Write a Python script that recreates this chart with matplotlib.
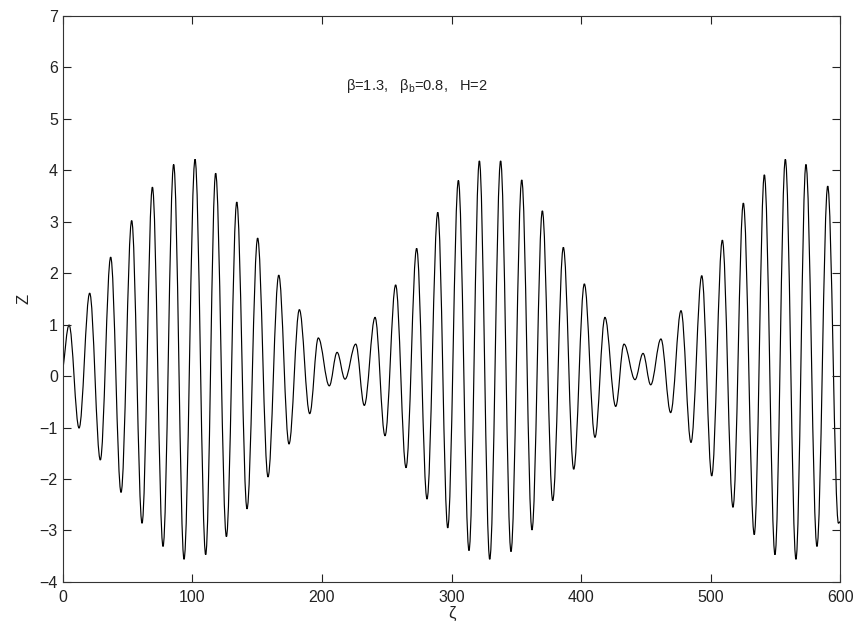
import numpy as np
import matplotlib.pyplot as plt
from matplotlib.path import Path
from matplotlib.patches import PathPatch

plt.rcParams['font.family'] = ['Liberation Sans', 'DejaVu Sans']
plt.rcParams['mathtext.fontset'] = 'custom'
plt.rcParams['mathtext.rm'] = 'Liberation Sans'

# surface elevation Z at its crests and troughs (first and last entries are the ends)
zeta = [0.0, 4.9, 12.6, 20.8, 29.0, 37.0, 45.0, 53.2, 61.2, 69.2, 77.4, 85.6, 93.6,
        102.1, 110.3, 118.0, 126.3, 134.3, 142.2, 150.4, 158.4, 166.7, 174.6, 182.6, 190.6,
        197.2, 205.7, 211.7, 217.8, 226.1, 232.7, 241.0, 248.7, 256.9, 264.9, 273.1, 281.1,
        289.4, 297.1, 305.3, 313.5, 321.5, 329.5, 337.9, 345.9, 354.2, 362.1, 370.1, 378.1,
        386.3, 394.3, 402.5, 410.7, 418.4, 426.7, 433.1, 441.6, 447.8, 453.7, 461.6, 469.1,
        477.1, 484.8, 493.1, 500.8, 509.0, 517.2, 525.2, 533.6, 541.4, 549.6, 557.6, 565.8,
        573.5, 582.0, 590.3, 598.6, 600.0]
z = [0.10, 0.99, -1.01, 1.61, -1.63, 2.31, -2.26, 3.02, -2.86, 3.67, -3.31, 4.11, -3.56,
     4.21, -3.47, 3.94, -3.12, 3.38, -2.58, 2.68, -1.96, 1.96, -1.32, 1.29, -0.73,
     0.74, -0.19, 0.46, -0.06, 0.62, -0.57, 1.14, -1.16, 1.77, -1.78, 2.48, -2.39,
     3.18, -2.95, 3.80, -3.39, 4.18, -3.56, 4.18, -3.41, 3.81, -2.99, 3.21, -2.42,
     2.50, -1.81, 1.79, -1.19, 1.14, -0.59, 0.62, -0.07, 0.44, -0.17, 0.72, -0.71,
     1.27, -1.29, 1.95, -1.94, 2.64, -2.55, 3.36, -3.08, 3.91, -3.47, 4.21, -3.56,
     4.11, -3.31, 3.69, -2.86, -2.82]

xticks = [0, 100, 200, 300, 400, 500, 600]
yticks = [-4, -3, -2, -1, 0, 1, 2, 3, 4, 5, 6, 7]


def smooth_path(xs, ys, k=0.364):
    # cubic segments with flat tangents at crests/troughs, straight tangents at the ends
    n = len(xs)
    verts = [(xs[0], ys[0])]
    codes = [Path.MOVETO]
    for i in range(n - 1):
        x0, y0, x1, y1 = xs[i], ys[i], xs[i + 1], ys[i + 1]
        dx, dy = x1 - x0, y1 - y0
        if i == 0:
            c1 = (x0 + k * dx, y0 + k * dy)
        else:
            c1 = (x0 + k * dx, y0)
        if i + 1 == n - 1:
            c2 = (x1 - k * dx, y1 - k * dy)
        else:
            c2 = (x1 - k * dx, y1)
        verts += [c1, c2, (x1, y1)]
        codes += [Path.CURVE4] * 3
    return Path(verts, codes)


fig = plt.figure(figsize=(8.57, 6.27), dpi=100)
ax = fig.add_axes([0.0732, 0.0718, 0.9073, 0.9032])

ax.add_patch(PathPatch(smooth_path(zeta, z), fill=False, edgecolor='black', lw=0.85))

ax.set_xlim(0, 600)
ax.set_ylim(-4, 7)
ax.set_xticks(xticks)
ax.set_yticks(yticks)
ax.tick_params(direction='in', top=True, right=True, length=5.8, width=0.8,
               labelsize=11.5, colors='#222222')
ax.tick_params(axis='x', pad=5.5)
ax.tick_params(axis='y', pad=3.5)
for s in ax.spines.values():
    s.set_linewidth(0.8)
    s.set_color('#333333')

ax.set_xlabel('ζ', fontsize=12, labelpad=1, color='#222222')
ax.set_ylabel('Z', fontsize=12, labelpad=6, color='#222222')

ax.text(328, 5.64, r'β=1.3,   β$_\mathrm{b}$=0.8,   H=2', fontsize=10.5,
        ha='right', va='center', color='#222222')

fig.savefig('out.png', dpi=100)
